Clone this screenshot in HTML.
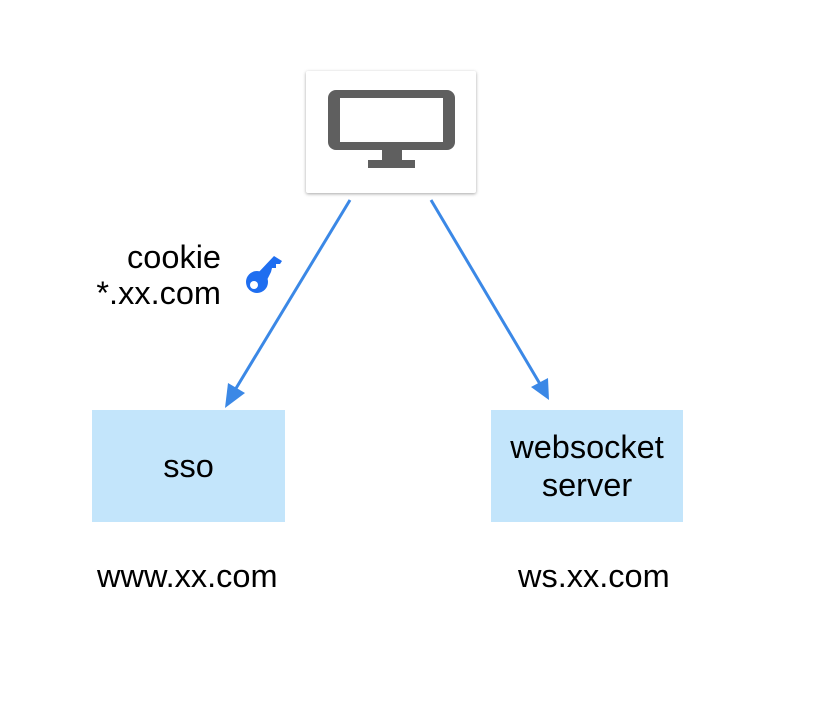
<!DOCTYPE html>
<html><head><style>
body{margin:0;width:816px;height:718px;background:#fff;position:relative;overflow:hidden;font-family:"Liberation Sans",Arial,sans-serif;color:#000}
.t{position:absolute;font-size:32.5px;line-height:36px;white-space:nowrap}
.box{position:absolute;background:#c3e5fb;display:flex;align-items:center;justify-content:center;text-align:center;font-size:32.5px;line-height:38px}
</style></head><body>
<div style="position:absolute;left:306px;top:71px;width:170px;height:122px;background:#fff;box-shadow:0 1px 3px rgba(0,0,0,0.35);border-radius:2px"></div>
<svg width="816" height="718" style="position:absolute;left:0;top:0">
<rect x="328" y="90" width="127" height="60" rx="8" fill="#5f5f5f"/>
<rect x="340" y="98" width="103" height="44" fill="#fff"/>
<rect x="382" y="150" width="20" height="10" fill="#5f5f5f"/>
<rect x="368" y="160" width="47" height="8" fill="#5f5f5f"/>
<line x1="350" y1="200" x2="235" y2="390" stroke="#3b88e6" stroke-width="3"/>
<polygon points="225,408 228,383 245,393" fill="#3b88e6"/>
<line x1="431" y1="200" x2="540" y2="384" stroke="#3b88e6" stroke-width="3"/>
<polygon points="549,400 531,387 548,378" fill="#3b88e6"/>
<g fill="#1f6ef0">
<circle cx="257" cy="282" r="11"/>
<polygon points="257,274 274,256 282,261 280,264 276,264 276,268 272,268 271,272 266,282"/>
</g>
<circle cx="254" cy="285" r="4" fill="#fff"/>
</svg>
<div class="t" style="right:595px;top:239px">cookie</div>
<div class="t" style="right:595px;top:275px">*.xx.com</div>
<div class="box" style="left:92px;top:410px;width:193px;height:112px">sso</div>
<div class="box" style="left:491px;top:410px;width:192px;height:112px">websocket<br>server</div>
<div class="t" style="left:97px;top:558px">www.xx.com</div>
<div class="t" style="left:518px;top:558px">ws.xx.com</div>
</body></html>
